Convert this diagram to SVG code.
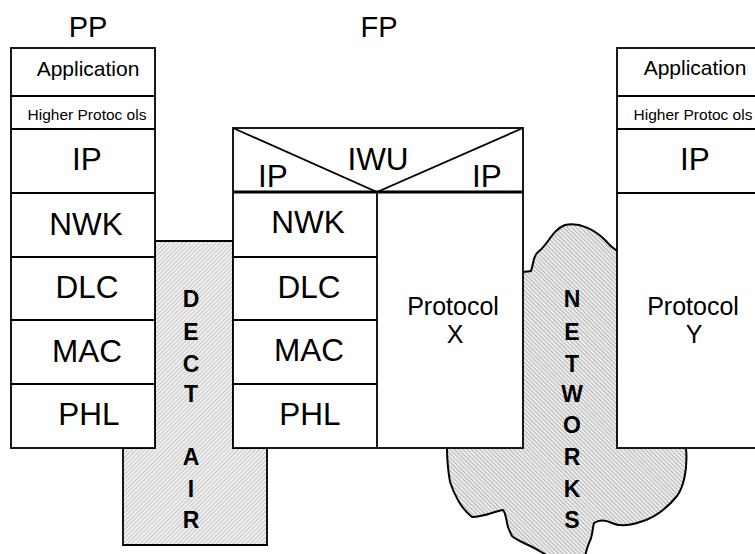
<svg xmlns="http://www.w3.org/2000/svg" width="755" height="554" viewBox="0 0 755 554">
<style>
.box{fill:#fff;stroke:#000;stroke-width:1.8}
.ln{stroke:#000;stroke-width:1.8;fill:none}
.t{font-family:"Liberation Sans",Arial,sans-serif;fill:#000;text-anchor:middle}
.big{font-size:31.5px}
.app{font-size:21px}
.hp{font-size:15.5px}
.pr{font-size:25px}
.ttl{font-size:29px}
.v{font-family:"Liberation Sans",Arial,sans-serif;font-weight:bold;font-size:23px;text-anchor:middle;fill:#000}
</style>
<defs>
<pattern id="hatchA" width="3" height="3" patternUnits="userSpaceOnUse" patternTransform="rotate(45)">
<rect width="3" height="3" fill="#f0f0f0"/><rect width="1" height="3" fill="#c6c6c6"/>
</pattern>
<pattern id="hatchB" width="3" height="3" patternUnits="userSpaceOnUse" patternTransform="rotate(-45)">
<rect width="3" height="3" fill="#eeeeee"/><rect width="1" height="3" fill="#b4b4b4"/>
</pattern>
</defs>
<rect width="755" height="554" fill="#fff"/>

<g id="dect-air">
<path d="M155,241 H233 V448 H267 V545 H123 V448 H155 Z" fill="url(#hatchA)" stroke="#000" stroke-width="1.8"/>
<text class="v" x="191" y="307">D</text>
<text class="v" x="191" y="340">E</text>
<text class="v" x="191" y="372">C</text>
<text class="v" x="191" y="402">T</text>
<text class="v" x="191" y="465">A</text>
<text class="v" x="191" y="497">I</text>
<text class="v" x="191" y="528">R</text>
</g>

<g id="networks">
<path d="M523,272 L531,271 C534,262 533,256 538,252 C548,245 552,230 565,225 C580,222 595,230 605,240 C610,246 614,249 617,251 L700,300 L686,448 C688,470 683,488 677,496 C668,507 655,518 640,522 C628,526 618,526 612,523 C606,520 600,519 594,523 C592,530 593,536 589,543 C587,548 586,552 585,556 L548,556 C546,555 545,554 543,553 C538,550 533,547 526,544 C520,541 515,539 512,536 C510,532 509,530 508,527 C506,520 506,513 503,510 C496,511 488,515 480,516 C476,517 474,517 472,517 C466,512 462,507 459,502 C455,495 452,488 450,482 C448,470 447,458 447,448 L450,300 Z" fill="url(#hatchB)" stroke="#000" stroke-width="2"/>
<text class="v" x="572" y="307">N</text>
<text class="v" x="572" y="340">E</text>
<text class="v" x="572" y="372">T</text>
<text class="v" x="572" y="402">W</text>
<text class="v" x="572" y="433">O</text>
<text class="v" x="572" y="465">R</text>
<text class="v" x="572" y="497">K</text>
<text class="v" x="572" y="528">S</text>
</g>

<g id="pp">
<text class="t ttl" x="88" y="37">PP</text>
<rect class="box" x="11" y="48" width="144" height="400"/>
<path class="ln" d="M11,96 H155 M11,129 H155 M11,193 H155 M11,257 H155 M11,320 H155 M11,384 H155"/>
<text class="t app" x="88" y="76">Application</text>
<text class="t hp" x="87" y="120">Higher Protoc ols</text>
<text class="t big" x="87" y="170">IP</text>
<text class="t big" x="86" y="235">NWK</text>
<text class="t big" x="87" y="298">DLC</text>
<text class="t big" x="87" y="362">MAC</text>
<text class="t big" x="89" y="425">PHL</text>
</g>

<g id="fp">
<text class="t ttl" x="379" y="37">FP</text>
<rect class="box" x="233" y="128" width="290" height="320"/>
<path class="ln" d="M233,128 L377,192 L523,128"/>
<path d="M233,192 H523" stroke="#000" stroke-width="2.8"/>
<path class="ln" d="M377,192 V448 M233,257 H377 M233,320 H377 M233,384 H377"/>
<text class="t big" x="273" y="187">IP</text>
<text class="t big" x="378" y="170">IWU</text>
<text class="t big" x="487" y="187">IP</text>
<text class="t big" x="308" y="233">NWK</text>
<text class="t big" x="309" y="298">DLC</text>
<text class="t big" x="309" y="361">MAC</text>
<text class="t big" x="310" y="425">PHL</text>
<text class="t pr" x="453" y="315">Protocol</text>
<text class="t pr" x="455" y="343">X</text>
</g>

<g id="remote">
<rect class="box" x="617" y="48" width="144" height="400"/>
<path class="ln" d="M617,96 H761 M617,129 H761 M617,193 H761"/>
<text class="t app" x="695" y="75">Application</text>
<text class="t hp" x="693" y="120">Higher Protoc ols</text>
<text class="t big" x="695" y="170">IP</text>
<text class="t pr" x="693" y="315">Protocol</text>
<text class="t pr" x="694" y="343">Y</text>
</g>

<g id="connectors"></g>
</svg>
